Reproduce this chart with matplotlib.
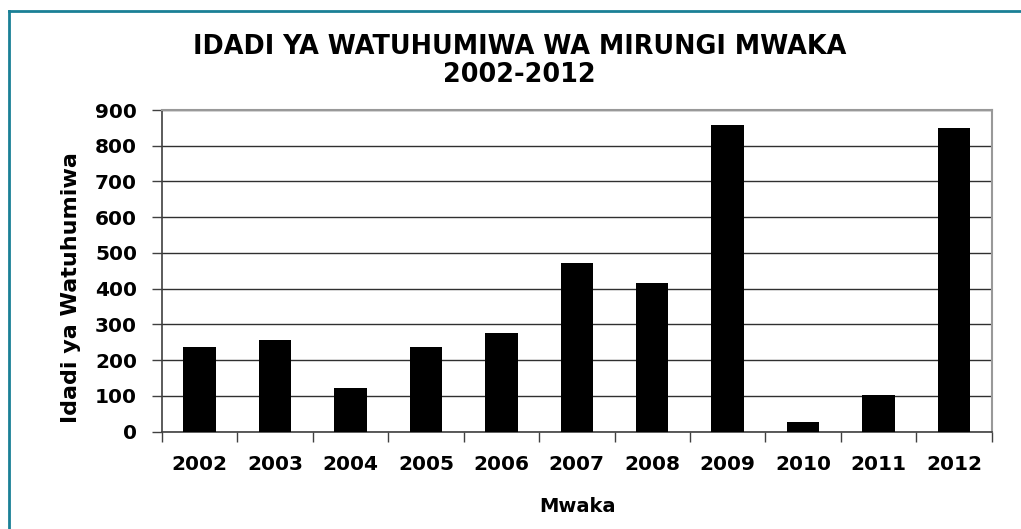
import matplotlib
matplotlib.use("Agg")
import matplotlib.pyplot as plt
from matplotlib.lines import Line2D
import numpy as np

years = ["2002", "2003", "2004", "2005", "2006", "2007", "2008", "2009", "2010", "2011", "2012"]
values = [236, 256, 122, 236, 277, 473, 415, 859, 28, 102, 849]
yticks = [0, 100, 200, 300, 400, 500, 600, 700, 800, 900]

plt.rcParams['font.family'] = ['DejaVu Sans']
plt.rcParams['font.weight'] = 'bold'

fig = plt.figure(figsize=(10.21, 5.29), dpi=100)
ax = fig.add_axes([162/1021, 1-431.7/529, (991.7-162)/1021, (431.7-110)/529])

x = np.arange(len(years))
ax.bar(x, values, width=0.43, color='black', zorder=3)
ax.set_xlim(-0.5, len(years)-0.5)
ax.set_ylim(0, 900)
ax.set_yticks(yticks)
ax.set_yticklabels([str(t) for t in yticks], fontsize=14.5, fontweight='bold')
ax.set_xticks(x)
ax.set_xticklabels(years, fontsize=14.5, fontweight='bold')
ax.tick_params(axis='x', which='major', length=0, pad=17)
ax.set_xticks(np.arange(-0.5, len(years)), minor=True)
ax.tick_params(axis='x', which='minor', length=7, width=1, color='#404040', direction='out')
ax.tick_params(axis='y', length=7, width=1, color='#404040', direction='out', pad=11)
ax.yaxis.grid(True, color='#303030', linewidth=1, zorder=0)
ax.set_axisbelow(True)
for s in ['left', 'bottom']:
    ax.spines[s].set_color('#404040')
    ax.spines[s].set_linewidth(1.2)
for s in ['top', 'right']:
    ax.spines[s].set_color('#999999')
    ax.spines[s].set_linewidth(1.5)

ax.set_xlabel("Mwaka", fontsize=14, fontweight='bold')
ax.xaxis.set_label_coords((577-162)/829.7, (431.7-506)/321.7)
ax.xaxis.label.set_va('center')
ax.set_ylabel("Idadi ya Watuhumiwa", fontsize=16, fontweight='bold')
ax.yaxis.set_label_coords((71-162)/829.7, (431.7-288)/321.7)
ax.yaxis.label.set_va('center')

fig.text(519.5/1021, 1-46.5/529, "IDADI YA WATUHUMIWA WA MIRUNGI MWAKA", ha='center', va='center',
         fontsize=18.4, fontweight='bold')
fig.text(519.5/1021, 1-75/529, "2002-2012", ha='center', va='center', fontsize=18.4, fontweight='bold')

# outer frame (teal)
fig.add_artist(Line2D([9/1021, 1], [1-11/529, 1-11/529], color='#1A8096', linewidth=2, transform=fig.transFigure))
fig.add_artist(Line2D([9/1021, 9/1021], [0, 1-11/529], color='#1A8096', linewidth=2, transform=fig.transFigure))

fig.savefig("out.png", dpi=100)
